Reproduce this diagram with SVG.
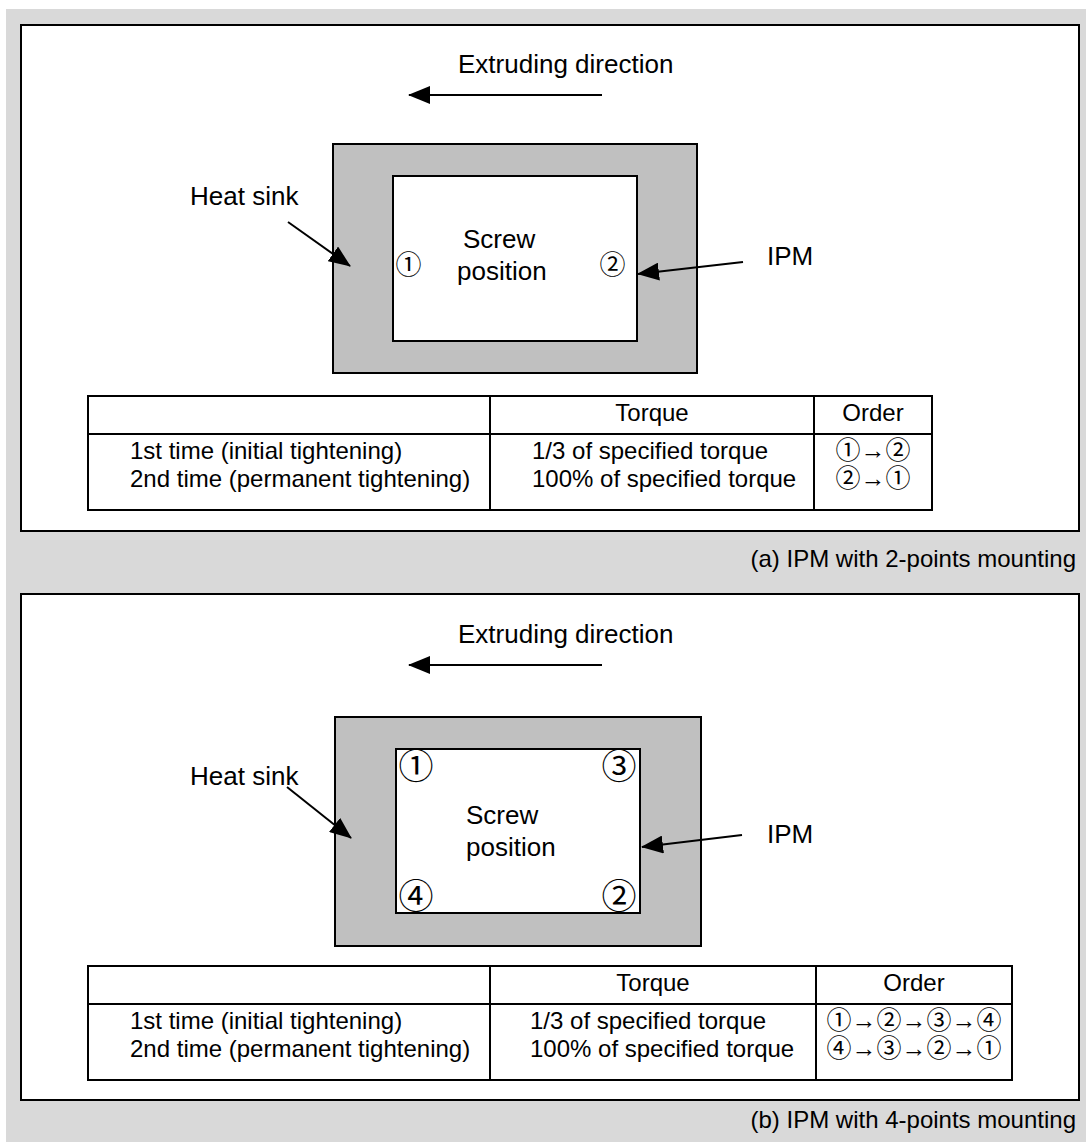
<svg xmlns="http://www.w3.org/2000/svg" width="1086" height="1142" viewBox="0 0 1086 1142">
<defs>
<marker id="ah" markerUnits="userSpaceOnUse" markerWidth="22" markerHeight="18" viewBox="0 0 22 18" refX="21" refY="9" orient="auto">
<path d="M0,0 L22,9 L0,18 z" fill="#000"/>
</marker>
<style>
.t{font-family:"Liberation Sans","Noto Sans CJK JP",Arial,sans-serif;fill:#000}
.lbl{font-size:26px}
.tb{font-size:24px}
.cd{font-family:"Noto Sans CJK JP","Liberation Sans",sans-serif;fill:#000;text-anchor:middle}
.od{font-family:"Liberation Sans","Noto Sans CJK JP",sans-serif;fill:#000;text-anchor:middle;font-size:25px}
.panel{fill:#fff;stroke:#000;stroke-width:2}
.hs{fill:#c0c0c0;stroke:#000;stroke-width:2}
.ipm{fill:#fff;stroke:#000;stroke-width:2}
.tbl{fill:#fff;stroke:#000;stroke-width:2}
.ln{stroke:#000;stroke-width:2;fill:none}
.arr{stroke:#000;stroke-width:2;fill:none;marker-end:url(#ah)}
</style>
</defs>
<rect x="6" y="9" width="1080" height="1133" fill="#d9d9d9"/>

<!-- Panel (a) -->
<g id="panel-a">
<rect class="panel" x="21" y="25" width="1058" height="506"/>
</g>
<g id="heatsink-a">
<rect class="hs" x="333" y="144" width="364" height="229"/>
</g>
<g id="ipm-a">
<rect class="ipm" x="393" y="176" width="244" height="165"/>
<text class="t lbl" x="463" y="248">Screw</text>
<text class="t lbl" x="457" y="280">position</text>
<text class="cd" x="408.5" y="274" font-size="26">①</text>
<text class="cd" x="612.5" y="274" font-size="26">②</text>
</g>
<g id="labels-a">
<text class="t lbl" x="458" y="73">Extruding direction</text>
<text class="t lbl" x="190" y="205">Heat sink</text>
<text class="t lbl" x="767" y="265">IPM</text>
</g>
<g id="table-a">
<rect class="tbl" x="88" y="396" width="844" height="114"/>
<line class="ln" x1="88" y1="434" x2="932" y2="434"/>
<line class="ln" x1="490" y1="396" x2="490" y2="510"/>
<line class="ln" x1="814" y1="396" x2="814" y2="510"/>
<text class="t tb" x="652" y="421" text-anchor="middle">Torque</text>
<text class="t tb" x="873" y="421" text-anchor="middle">Order</text>
<text class="t tb" x="130" y="459">1st time (initial tightening)</text>
<text class="t tb" x="130" y="487">2nd time (permanent tightening)</text>
<text class="t tb" x="532" y="459">1/3 of specified torque</text>
<text class="t tb" x="532" y="487">100% of specified torque</text>
<text class="od" x="873" y="459">①→②</text>
<text class="od" x="873" y="487">②→①</text>
</g>
<text class="t tb" x="1076" y="567" text-anchor="end">(a) IPM with 2-points mounting</text>

<!-- Panel (b) -->
<g id="panel-b">
<rect class="panel" x="21" y="594" width="1058" height="506"/>
</g>
<g id="heatsink-b">
<rect class="hs" x="335" y="717" width="366" height="229"/>
</g>
<g id="ipm-b">
<rect class="ipm" x="396" y="749" width="244" height="164"/>
<text class="t lbl" x="466" y="824">Screw</text>
<text class="t lbl" x="466" y="856">position</text>
<text class="cd" x="416" y="779" font-size="35">①</text>
<text class="cd" x="619" y="779" font-size="35">③</text>
<text class="cd" x="416" y="909" font-size="35">④</text>
<text class="cd" x="619" y="909" font-size="35">②</text>
</g>
<g id="labels-b">
<text class="t lbl" x="458" y="643">Extruding direction</text>
<text class="t lbl" x="190" y="785">Heat sink</text>
<text class="t lbl" x="767" y="843">IPM</text>
</g>
<g id="table-b">
<rect class="tbl" x="88" y="966" width="924" height="114"/>
<line class="ln" x1="88" y1="1004" x2="1012" y2="1004"/>
<line class="ln" x1="490" y1="966" x2="490" y2="1080"/>
<line class="ln" x1="816" y1="966" x2="816" y2="1080"/>
<text class="t tb" x="653" y="991" text-anchor="middle">Torque</text>
<text class="t tb" x="914" y="991" text-anchor="middle">Order</text>
<text class="t tb" x="130" y="1029">1st time (initial tightening)</text>
<text class="t tb" x="130" y="1057">2nd time (permanent tightening)</text>
<text class="t tb" x="530" y="1029">1/3 of specified torque</text>
<text class="t tb" x="530" y="1057">100% of specified torque</text>
<text class="od" x="914" y="1029">①→②→③→④</text>
<text class="od" x="914" y="1057">④→③→②→①</text>
</g>
<text class="t tb" x="1076" y="1128" text-anchor="end">(b) IPM with 4-points mounting</text>

<!-- Connectors -->
<g id="connectors">
<line class="arr" x1="602" y1="95" x2="409" y2="95"/>
<line class="arr" x1="288" y1="222" x2="350" y2="266"/>
<line class="arr" x1="743" y1="262" x2="638" y2="274"/>
<line class="arr" x1="602" y1="665" x2="409" y2="665"/>
<line class="arr" x1="287" y1="787" x2="351" y2="838"/>
<line class="arr" x1="742" y1="835" x2="642" y2="847"/>
</g>
</svg>
